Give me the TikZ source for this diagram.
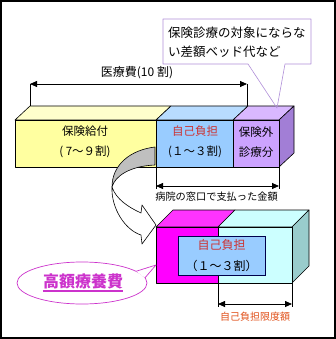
\documentclass[tikz,border=0pt]{standalone}
\usepackage{fontspec}
\setmainfont{Noto Sans CJK JP}
\usetikzlibrary{arrows.meta,calc}
\definecolor{YF}{HTML}{FFFFA0}
\definecolor{YT}{HTML}{FFFFCC}
\definecolor{BF}{HTML}{99CCFF}
\definecolor{BT}{HTML}{B8DCFF}
\definecolor{PF}{HTML}{CCA3FF}
\definecolor{PT}{HTML}{D9B8FF}
\definecolor{PS}{HTML}{A27ED6}
\definecolor{MF}{HTML}{FF00FF}
\definecolor{MT}{HTML}{FF33FF}
\definecolor{CF}{HTML}{CCFFFF}
\definecolor{CS}{HTML}{99CCCC}
\definecolor{RD}{HTML}{CC3333}
\definecolor{OR}{HTML}{E0501A}
\definecolor{MG}{HTML}{CC33CC}
\definecolor{LL}{HTML}{B08FD8}
\tikzset{
  face/.style={draw=black, line width=0.6pt, line join=round},
  tick/.style={line width=0.7pt},
  dimarrow/.style={line width=0.8pt,
    {Triangle[length=7pt,width=6pt]}-{Triangle[length=7pt,width=6pt]}},
  lbl/.style={inner sep=0pt, align=center,
    font=\fontsize{11.5}{20}\selectfont},
}

\begin{document}
\begin{tikzpicture}[x=1pt,y=-1pt]
  \useasboundingbox (0,0) rectangle (336,339);
  \draw[line width=1.6pt] (1,1) rectangle (335,338);

  % upper bar: total cost
  \filldraw[face, fill=YT] (15,120) -- (30,106) -- (171,106) -- (156,120) -- cycle;
  \filldraw[face, fill=BT] (156,120) -- (171,106) -- (248,106) -- (233,120) -- cycle;
  \filldraw[face, fill=PT] (233,120) -- (248,106) -- (294,106) -- (279,120) -- cycle;
  \filldraw[face, fill=PS] (279,120) -- (294,106) -- (294,153) -- (279,167) -- cycle;
  \filldraw[face, fill=YF] (15,120) rectangle (156,167);
  \filldraw[face, fill=BF] (156,120) rectangle (233,167);
  \filldraw[face, fill=PF] (233,120) rectangle (279,167);

  \node[lbl] (benefit) at (85,142) {保険給付\\( 7～９割)};
  \node[lbl] (share) at (195,142) {\textcolor{RD}{自己負担}\\(１～３割)};
  \node[lbl] (extra) at (256,142) {保険外\\診療分};

  % total cost dimension
  \coordinate (costL) at (30,84);
  \coordinate (costR) at (247,84);
  \draw[tick] (costL) -- (30,106);
  \draw[tick] (costR) -- (247,106);
  \draw[dimarrow] (costL) -- (costR);
  \node[lbl, font=\fontsize{12}{14}\selectfont] (cost) at (137,73) {医療費(10 割)};

  % note callout
  \draw[draw=LL, line width=0.6pt, line join=round]
    (163,19) -- (311,19) -- (311,64) -- (285,64) -- (277,108)
    -- (248,64) -- (163,64) -- cycle;
  \node[lbl, anchor=west, align=left, font=\fontsize{12.5}{19}\selectfont]
    (note) at (168,42.5) {保険診療の対象にならな\\い差額ベッド代など};

  % paid at the window dimension
  \coordinate (paidL) at (156,186);
  \coordinate (paidR) at (279,186);
  \draw[tick] (156,167) -- (156,189);
  \draw[tick] (279,167) -- (279,189);
  \draw[dimarrow] (paidL) -- (paidR);
  \node[lbl, font=\fontsize{10.2}{12}\selectfont] (paid) at (216.5,197) {病院の窓口で支払った金額};

  % curved arrow
  \filldraw[face, fill=black!25] (155,147) .. controls (130,150) and (112,165) .. (112,187)
    .. controls (115,176) and (130,166) .. (155,165) -- cycle;
  \filldraw[face, fill=white] (112,187) .. controls (111,208) and (125,230) .. (141,235)
    -- (142,244) -- (156,225) -- (142,205) -- (141,213)
    .. controls (128,207) and (116,199) .. (112,187) -- cycle;

  % lower box: after refund
  \filldraw[face, fill=MT] (156,227) -- (173,210) -- (235,210) -- (218,227) -- cycle;
  \filldraw[face, fill=CF] (218,227) -- (235,210) -- (309,210) -- (292,227) -- cycle;
  \filldraw[face, fill=CS] (292,227) -- (309,210) -- (309,266) -- (292,283) -- cycle;
  \filldraw[face, fill=MF] (156,227) rectangle (218,283);
  \filldraw[face, fill=CF] (218,227) rectangle (292,283);
  \node[lbl, draw=black!70!blue, line width=0.6pt, fill=BF,
        minimum width=87pt, minimum height=39pt,
        font=\fontsize{12}{21}\selectfont]
    (capbox) at (221.5,255.5) {\textcolor{RD}{自己負担}\\（１～３割）};

  % limit dimension
  \coordinate (limL) at (218,304);
  \coordinate (limR) at (292,304);
  \draw[tick] (218,283) -- (218,307);
  \draw[tick] (292,283) -- (292,307);
  \draw[dimarrow] (limL) -- (limR);
  \node[lbl, font=\fontsize{10}{12}\selectfont, text=OR] (limit) at (255,317) {自己負担限度額};

  % high-cost benefit callout
  \filldraw[draw=MG, fill=white, line width=0.7pt] (82,283) ellipse [x radius=65, y radius=21];
  \coordinate (tailA) at (136,271.3);
  \coordinate (tailB) at (145,277.8);
  \coordinate (tailTip) at (156,265);
  \fill[white] (tailA) -- (tailTip) -- (tailB) -- cycle;
  \draw[draw=MG, line width=0.7pt, line join=round] (tailA) -- (tailTip) -- (tailB);
  \node[lbl, font=\fontsize{16}{18}\selectfont\bfseries, text=MG] (kogaku) at (83,281) {高額療養費};
  \draw[MG, line width=1.2pt] ([yshift=-10pt]kogaku.west) -- ([yshift=-10pt]kogaku.east);
\end{tikzpicture}
\end{document}
